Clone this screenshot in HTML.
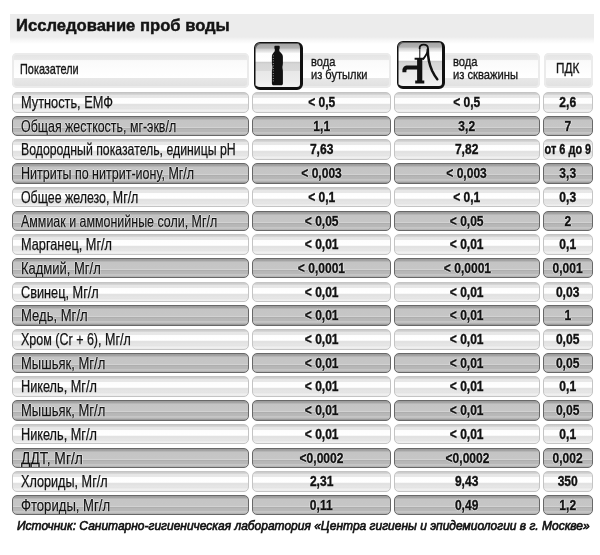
<!DOCTYPE html><html lang="ru"><head><meta charset="utf-8"><title>Исследование проб воды</title><style>
*{margin:0;padding:0;box-sizing:border-box}
html,body{width:600px;height:555px;background:#fff;overflow:hidden}
body{position:relative;font-family:"Liberation Sans",Arial,sans-serif;color:#111}
.ab{position:absolute}
.title{left:10px;top:14px;width:584px;height:30px;
 background:linear-gradient(to bottom,#ececec 0,#ececec 23px,#f6f6f6 26px,#fff 30px)}
.title span{position:absolute;left:5.5px;top:1.5px;font-weight:bold;font-size:16.7px;line-height:20px;color:#141414;
 transform:scaleX(0.995);transform-origin:0 0;white-space:nowrap;letter-spacing:0;-webkit-text-stroke:0.45px #141414}
.hc{border-radius:5px;
 background:linear-gradient(to bottom,#e2e2e2 0,#eaeaea 6.5px,#fafafa 7.6px,#fff 24.5px,#e8e8e8 25.2px,#e0e0e0 35px);
 box-shadow:inset 0 0 0 2px #ebebeb}
.ht{position:absolute;font-size:14px;line-height:13.3px;white-space:nowrap;transform-origin:0 0;color:#161616;-webkit-text-stroke:0.35px #161616}
.cell{position:absolute;height:20.5px;border-radius:5px;overflow:hidden}
.lt{border:1px solid #c4c4c4;
 background:linear-gradient(to bottom,#c8c8c8 0,#d6d6d6 1.5px,#e6e6e6 2px,#e8e8e8 4.6px,#fdfdfd 5.5px,#fff 10.4px,#e2e2e2 10.8px,#e2e2e2 13.2px,#e6e6e6 13.7px,#e4e4e4 16.2px,#f2f2f2 16.8px,#ececec 18.5px)}
.dk .val span,.dk .lab{text-shadow:1px 0 0 rgba(255,255,255,.45),-1px 0 0 rgba(255,255,255,.45),0 1px 0 rgba(255,255,255,.45),0 -1px 0 rgba(255,255,255,.45)}
.dk{border:1px solid #686868;
 background:linear-gradient(to bottom,#9a9a9a 0,#a8a8a8 2.2px,#c4c4c4 2.8px,#c6c6c6 9.5px,#d2d2d2 10px,#d2d2d2 10.8px,#a6a6a6 11.2px,#b6b6b6 11.8px,#b8b8b8 14.5px,#c6c6c6 15.5px,#c0c0c0 17px,#9a9a9a 18.5px)}
.lab{position:absolute;left:7.5px;top:0;font-size:16.5px;line-height:18.5px;white-space:nowrap;transform-origin:0 50%;color:#111;-webkit-text-stroke:0.25px #111}
.val{position:absolute;left:0;right:0;top:0;display:flex;justify-content:center;font-weight:bold;font-size:14px;line-height:18.5px;white-space:nowrap;color:#111}
.val span{display:inline-block;transform:scaleX(0.86);transform-origin:50% 50%;-webkit-text-stroke:0.35px #111}
.icon{border-radius:6px;border:1px solid #111;border-right-width:3px;border-bottom-width:3px;box-shadow:inset 1px 1px 0 rgba(17,17,17,0.5);
 background:linear-gradient(to bottom,#a2a2a2 0,#b2b2b2 5px,#d2d2d2 6.5px,#eaeaea 9px,#fdfdfd 10.5px,#fff 18.4px,#c8c8c8 18.8px,#d6d6d6 21px,#dadada 27.5px,#e8e8e8 28.5px,#ececec 37px,#f2f2f2 43px)}
.foot{left:17px;top:517.8px;font-weight:normal;font-style:italic;font-size:12.7px;line-height:16px;white-space:nowrap;transform:scaleX(0.945);transform-origin:0 0;color:#111;-webkit-text-stroke:0.65px #111}
</style></head><body>
<div class="ab title"><span>Исследование проб воды</span></div>
<div class="ab hc" style="left:12px;top:52.5px;width:237px;height:35.0px"></div>
<div class="ab hc" style="left:290px;top:52.5px;width:101px;height:35.0px"></div>
<div class="ab hc" style="left:432px;top:52.5px;width:108px;height:35.0px"></div>
<div class="ab hc" style="left:544px;top:52.5px;width:48.5px;height:35.0px"></div>
<div class="ht" style="left:20px;top:61.7px;font-size:15px;transform:scaleX(0.726)">Показатели</div>
<div class="ht" style="left:311px;top:54.7px;font-size:13.5px;transform:scaleX(0.82)">вода<br>из бутылки</div>
<div class="ht" style="left:453px;top:54.9px;font-size:13.5px;transform:scaleX(0.83)">вода<br>из скважины</div>
<div class="ht" style="left:555.8px;top:60.8px;font-size:15px;transform:scaleX(0.785)">ПДК</div>
<div class="ab icon" style="left:254px;top:41.5px;width:48.5px;height:48px"><svg class="ab" style="left:1px;top:1px" width="46" height="46" viewBox="0 0 46 46">
<path d="M18.4 2.6Q18.4 1.8 19.2 1.8H22.9Q23.7 1.8 23.7 2.6V4.5L23.3 4.9V6.6C23.3 8.4 26.9 9.2 26.9 12.8V19C26.9 21 26.4 22 26.4 23.3C26.4 24.6 26.9 25.6 26.9 27.6V39.4C26.9 40.8 26 41.2 24.9 41.2H17.9C16.8 41.2 15.9 40.8 15.9 39.4V27.6C15.9 25.6 16.4 24.6 16.4 23.3C16.4 22 15.9 21 15.9 19V12.8C15.9 9.2 18.8 8.4 18.8 6.6V4.9L18.4 4.5Z" fill="#111"/>
<g fill="#fff" opacity="0.7"><rect x="16.8" y="11.5" width="1" height="0.8"/><rect x="16.8" y="14" width="1" height="0.8"/><rect x="16.8" y="16.5" width="1" height="0.8"/><rect x="16.8" y="19" width="1" height="0.8"/><rect x="16.8" y="21.5" width="1" height="0.8"/><rect x="16.8" y="24" width="1" height="0.8"/><rect x="16.8" y="26.5" width="1" height="0.8"/><rect x="16.8" y="29" width="1" height="0.8"/><rect x="16.8" y="31.5" width="1" height="0.8"/><rect x="16.8" y="34" width="1" height="0.8"/><rect x="16.8" y="36.5" width="1" height="0.8"/></g>
</svg></div>
<div class="ab icon" style="left:396.5px;top:41px;width:48px;height:48px"><svg class="ab" style="left:1px;top:1px" width="46" height="46" viewBox="0 0 46 46">
<path fill="#111" d="M15.6 14.8H25V16.8H23.3V37.4H25.3V40.6H16.2V37.4H18.1V26.6H8.6C7.6 26.6 7.4 27.3 7.4 28.1V29.2H3.4V27.8C3.4 24.4 5.5 22.5 8.6 22.5H18.1V16.8H15.6Z"/>
<g fill="none" stroke="#111" stroke-linecap="round" stroke-linejoin="round">
<path d="M20.8 15V5.5" stroke-width="1"/><path d="M20.6 5.2C20.6 2.9 22.2 1.6 24.6 1.6C27.4 1.6 29 3 29 5.6C29 9 27 12.6 24.6 15.6" stroke-width="1.8"/>
<path d="M28.8 6.5C28.8 14 30.3 21.5 33.1 27.8C34.8 31.4 36.6 34.2 38.3 36.2" stroke-width="2.5"/>
</g>
</svg></div>
<div class="cell lt" style="left:12px;top:92.0px;width:237px"><div class="lab" style="transform:scaleX(0.7743)">Мутность, ЕМФ</div></div>
<div class="cell lt" style="left:252px;top:92.0px;width:139px"><div class="val"><span>< 0,5</span></div></div>
<div class="cell lt" style="left:394px;top:92.0px;width:146px"><div class="val"><span>< 0,5</span></div></div>
<div class="cell lt" style="left:543px;top:92.0px;width:50px"><div class="val"><span>2,6</span></div></div>
<div class="cell dk" style="left:12px;top:115.7px;width:237px"><div class="lab" style="transform:scaleX(0.7523)">Общая жесткость, мг-экв/л</div></div>
<div class="cell dk" style="left:252px;top:115.7px;width:139px"><div class="val"><span>1,1</span></div></div>
<div class="cell dk" style="left:394px;top:115.7px;width:146px"><div class="val"><span>3,2</span></div></div>
<div class="cell dk" style="left:543px;top:115.7px;width:50px"><div class="val"><span>7</span></div></div>
<div class="cell lt" style="left:12px;top:139.4px;width:237px"><div class="lab" style="transform:scaleX(0.7440)">Водородный показатель, единицы pH</div></div>
<div class="cell lt" style="left:252px;top:139.4px;width:139px"><div class="val"><span>7,63</span></div></div>
<div class="cell lt" style="left:394px;top:139.4px;width:146px"><div class="val"><span>7,82</span></div></div>
<div class="cell lt" style="left:543px;top:139.4px;width:50px"><div class="val"><span style="transform:scaleX(0.78)">от 6 до 9</span></div></div>
<div class="cell dk" style="left:12px;top:163.1px;width:237px"><div class="lab" style="transform:scaleX(0.7582)">Нитриты по нитрит-иону, Мг/л</div></div>
<div class="cell dk" style="left:252px;top:163.1px;width:139px"><div class="val"><span>< 0,003</span></div></div>
<div class="cell dk" style="left:394px;top:163.1px;width:146px"><div class="val"><span>< 0,003</span></div></div>
<div class="cell dk" style="left:543px;top:163.1px;width:50px"><div class="val"><span>3,3</span></div></div>
<div class="cell lt" style="left:12px;top:186.8px;width:237px"><div class="lab" style="transform:scaleX(0.7499)">Общее железо, Мг/л</div></div>
<div class="cell lt" style="left:252px;top:186.8px;width:139px"><div class="val"><span>< 0,1</span></div></div>
<div class="cell lt" style="left:394px;top:186.8px;width:146px"><div class="val"><span>< 0,1</span></div></div>
<div class="cell lt" style="left:543px;top:186.8px;width:50px"><div class="val"><span>0,3</span></div></div>
<div class="cell dk" style="left:12px;top:210.5px;width:237px"><div class="lab" style="transform:scaleX(0.7538)">Аммиак и аммонийные соли, Мг/л</div></div>
<div class="cell dk" style="left:252px;top:210.5px;width:139px"><div class="val"><span>< 0,05</span></div></div>
<div class="cell dk" style="left:394px;top:210.5px;width:146px"><div class="val"><span>< 0,05</span></div></div>
<div class="cell dk" style="left:543px;top:210.5px;width:50px"><div class="val"><span>2</span></div></div>
<div class="cell lt" style="left:12px;top:234.2px;width:237px"><div class="lab" style="transform:scaleX(0.7716)">Марганец, Мг/л</div></div>
<div class="cell lt" style="left:252px;top:234.2px;width:139px"><div class="val"><span>< 0,01</span></div></div>
<div class="cell lt" style="left:394px;top:234.2px;width:146px"><div class="val"><span>< 0,01</span></div></div>
<div class="cell lt" style="left:543px;top:234.2px;width:50px"><div class="val"><span>0,1</span></div></div>
<div class="cell dk" style="left:12px;top:257.9px;width:237px"><div class="lab" style="transform:scaleX(0.7872)">Кадмий, Мг/л</div></div>
<div class="cell dk" style="left:252px;top:257.9px;width:139px"><div class="val"><span>< 0,0001</span></div></div>
<div class="cell dk" style="left:394px;top:257.9px;width:146px"><div class="val"><span>< 0,0001</span></div></div>
<div class="cell dk" style="left:543px;top:257.9px;width:50px"><div class="val"><span>0,001</span></div></div>
<div class="cell lt" style="left:12px;top:281.6px;width:237px"><div class="lab" style="transform:scaleX(0.7719)">Свинец, Мг/л</div></div>
<div class="cell lt" style="left:252px;top:281.6px;width:139px"><div class="val"><span>< 0,01</span></div></div>
<div class="cell lt" style="left:394px;top:281.6px;width:146px"><div class="val"><span>< 0,01</span></div></div>
<div class="cell lt" style="left:543px;top:281.6px;width:50px"><div class="val"><span>0,03</span></div></div>
<div class="cell dk" style="left:12px;top:305.3px;width:237px"><div class="lab" style="transform:scaleX(0.7923)">Медь, Мг/л</div></div>
<div class="cell dk" style="left:252px;top:305.3px;width:139px"><div class="val"><span>< 0,01</span></div></div>
<div class="cell dk" style="left:394px;top:305.3px;width:146px"><div class="val"><span>< 0,01</span></div></div>
<div class="cell dk" style="left:543px;top:305.3px;width:50px"><div class="val"><span>1</span></div></div>
<div class="cell lt" style="left:12px;top:329.0px;width:237px"><div class="lab" style="transform:scaleX(0.7577)">Хром (Cr + 6), Мг/л</div></div>
<div class="cell lt" style="left:252px;top:329.0px;width:139px"><div class="val"><span>< 0,01</span></div></div>
<div class="cell lt" style="left:394px;top:329.0px;width:146px"><div class="val"><span>< 0,01</span></div></div>
<div class="cell lt" style="left:543px;top:329.0px;width:50px"><div class="val"><span>0,05</span></div></div>
<div class="cell dk" style="left:12px;top:352.7px;width:237px"><div class="lab" style="transform:scaleX(0.7896)">Мышьяк, Мг/л</div></div>
<div class="cell dk" style="left:252px;top:352.7px;width:139px"><div class="val"><span>< 0,01</span></div></div>
<div class="cell dk" style="left:394px;top:352.7px;width:146px"><div class="val"><span>< 0,01</span></div></div>
<div class="cell dk" style="left:543px;top:352.7px;width:50px"><div class="val"><span>0,05</span></div></div>
<div class="cell lt" style="left:12px;top:376.4px;width:237px"><div class="lab" style="transform:scaleX(0.7697)">Никель, Мг/л</div></div>
<div class="cell lt" style="left:252px;top:376.4px;width:139px"><div class="val"><span>< 0,01</span></div></div>
<div class="cell lt" style="left:394px;top:376.4px;width:146px"><div class="val"><span>< 0,01</span></div></div>
<div class="cell lt" style="left:543px;top:376.4px;width:50px"><div class="val"><span>0,1</span></div></div>
<div class="cell dk" style="left:12px;top:400.1px;width:237px"><div class="lab" style="transform:scaleX(0.7896)">Мышьяк, Мг/л</div></div>
<div class="cell dk" style="left:252px;top:400.1px;width:139px"><div class="val"><span>< 0,01</span></div></div>
<div class="cell dk" style="left:394px;top:400.1px;width:146px"><div class="val"><span>< 0,01</span></div></div>
<div class="cell dk" style="left:543px;top:400.1px;width:50px"><div class="val"><span>0,05</span></div></div>
<div class="cell lt" style="left:12px;top:423.8px;width:237px"><div class="lab" style="transform:scaleX(0.7697)">Никель, Мг/л</div></div>
<div class="cell lt" style="left:252px;top:423.8px;width:139px"><div class="val"><span>< 0,01</span></div></div>
<div class="cell lt" style="left:394px;top:423.8px;width:146px"><div class="val"><span>< 0,01</span></div></div>
<div class="cell lt" style="left:543px;top:423.8px;width:50px"><div class="val"><span>0,1</span></div></div>
<div class="cell dk" style="left:12px;top:447.5px;width:237px"><div class="lab" style="transform:scaleX(0.8392)">ДДТ, Мг/л</div></div>
<div class="cell dk" style="left:252px;top:447.5px;width:139px"><div class="val"><span><0,0002</span></div></div>
<div class="cell dk" style="left:394px;top:447.5px;width:146px"><div class="val"><span><0,0002</span></div></div>
<div class="cell dk" style="left:543px;top:447.5px;width:50px"><div class="val"><span>0,002</span></div></div>
<div class="cell lt" style="left:12px;top:471.2px;width:237px"><div class="lab" style="transform:scaleX(0.7669)">Хлориды, Мг/л</div></div>
<div class="cell lt" style="left:252px;top:471.2px;width:139px"><div class="val"><span>2,31</span></div></div>
<div class="cell lt" style="left:394px;top:471.2px;width:146px"><div class="val"><span>9,43</span></div></div>
<div class="cell lt" style="left:543px;top:471.2px;width:50px"><div class="val"><span>350</span></div></div>
<div class="cell dk" style="left:12px;top:494.9px;width:237px"><div class="lab" style="transform:scaleX(0.7945)">Фториды, Мг/л</div></div>
<div class="cell dk" style="left:252px;top:494.9px;width:139px"><div class="val"><span>0,11</span></div></div>
<div class="cell dk" style="left:394px;top:494.9px;width:146px"><div class="val"><span>0,49</span></div></div>
<div class="cell dk" style="left:543px;top:494.9px;width:50px"><div class="val"><span>1,2</span></div></div>
<div class="ab foot">Источник: Санитарно-гигиеническая лаборатория «Центра гигиены и эпидемиологии в г. Москве»</div>
</body></html>
